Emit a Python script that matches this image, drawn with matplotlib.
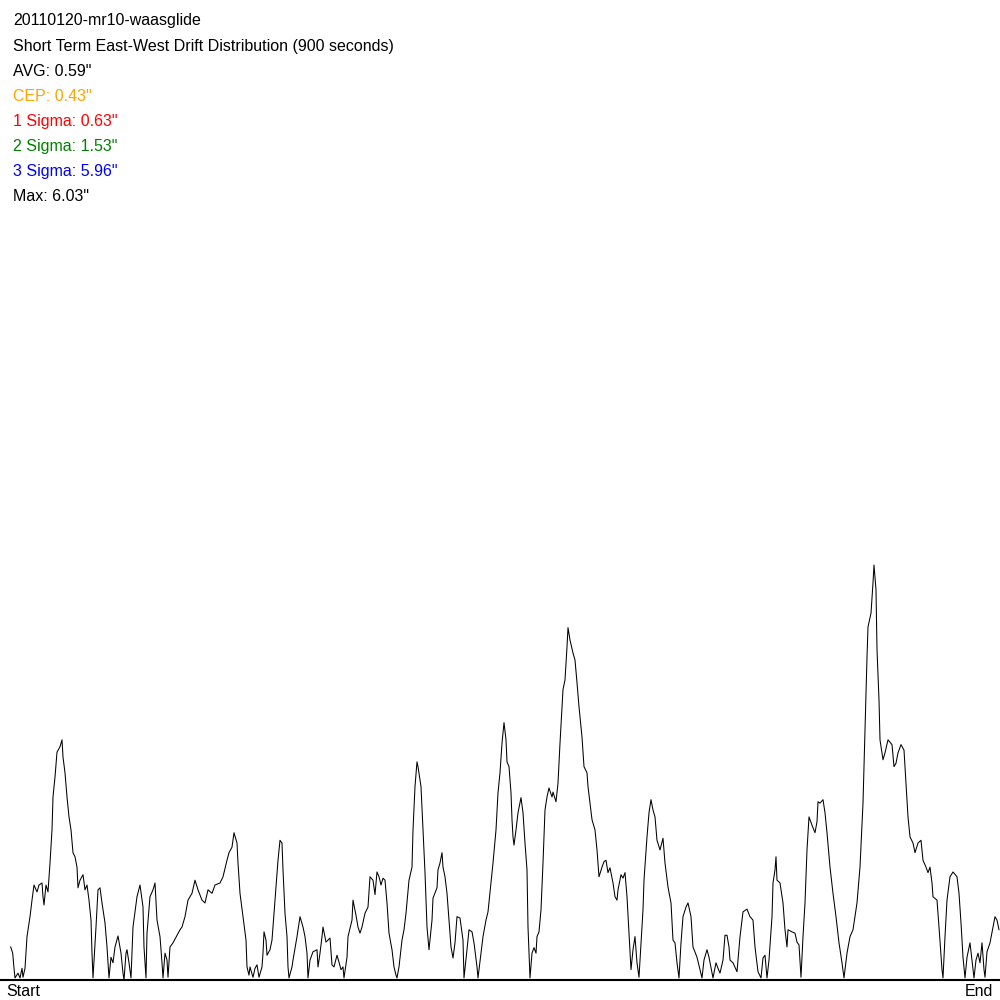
import matplotlib
matplotlib.use("Agg")
import matplotlib.pyplot as plt
import numpy as np

# chart text
title = "20110120-mr10-waasglide"
subtitle = "Short Term East-West Drift Distribution (900 seconds)"
stat_labels = ["AVG", "CEP", "1 Sigma", "2 Sigma", "3 Sigma", "Max"]
stat_values = [0.59, 0.43, 0.63, 1.53, 5.96, 6.03]
stat_colors = ["black", "#FFA500", "red", "green", "blue", "black"]

# sample position (0..1000 across the run) and drift in arc seconds
sample = [
    10.7, 12.7, 14, 15, 18, 20, 22, 23, 25, 27, 30, 32, 34, 37, 39, 42, 43, 44, 46, 48,
    50, 52, 53, 55, 57, 60, 62, 63, 65, 67, 69, 71, 73, 75, 77, 78, 80, 83, 85, 87,
    89, 91, 92, 93, 96, 98, 100, 102, 105, 107, 109, 111, 113, 115, 118, 121, 123, 124, 126, 127,
    129, 131, 133, 137, 140, 143, 144, 146, 147, 150, 153, 155, 157, 160, 162, 163, 165, 167, 168, 170,
    173, 177, 180, 182, 185, 188, 192, 195, 198, 202, 205, 208, 212, 215, 220, 223, 227, 229, 232, 234,
    237, 238, 240, 243, 246, 247, 249,
    250, 253, 255, 257, 259, 262, 263, 264, 266, 267, 270, 272, 274, 276, 278, 280, 282, 283, 285, 287,
    288, 289, 292, 293, 297, 300, 303, 305, 307, 308, 310, 313, 317, 318, 320, 322, 323, 326, 330, 332,
    334, 337, 339, 341, 343, 344, 347, 348, 352, 353, 356, 358, 360, 362, 365, 368, 370, 373, 375, 377,
    379, 381, 383, 385, 387, 389, 392, 394, 396, 397, 399, 402, 404, 406, 409, 412, 413, 415, 417, 418,
    421, 423, 425, 427, 429, 432, 433, 437, 438, 440, 442, 443, 445, 447, 449, 451, 453, 455, 457, 460,
    463, 464, 467, 469, 472, 474, 477, 478, 481, 483, 486, 488, 491, 493, 496, 498,
    500, 502, 504, 506, 507, 509, 511, 512, 513, 514, 516, 518, 521, 523, 525, 527, 528, 530, 532, 534,
    536, 537, 539, 541, 543, 545, 547, 549, 552, 553, 556, 558, 560, 563, 565, 567, 568, 570, 573, 575,
    577, 579, 582, 584, 587, 588, 592, 595, 597, 599, 602, 604, 606, 608, 610, 613, 615, 617, 618, 621,
    623, 625, 627, 629, 631, 633, 635, 637, 639, 641, 643, 644, 647, 649, 651, 653, 655, 657, 660, 663,
    665, 668, 671, 673, 675, 677, 679, 681, 683, 686, 688, 691, 693, 697, 700, 702, 704, 707, 709, 712,
    713, 716, 718, 720, 723, 725, 727, 729,
    730, 733, 737, 740, 743, 747, 750, 753, 755, 758, 761, 763, 765, 767, 769, 772, 773, 775, 776, 777,
    780, 783, 785, 787, 788, 792, 795, 797, 799, 801, 803, 805, 807, 809, 812, 815, 817, 818, 820, 823,
    825, 827, 830, 833, 836, 839, 842, 844, 847, 850, 853, 857, 860, 863, 865, 867, 868, 871, 873, 874,
    876, 877, 879, 880, 883, 885, 888, 892, 894, 896, 898, 901, 904, 906, 908, 910, 913, 915, 918, 921,
    923, 926, 928, 930, 932, 933, 937, 939, 942, 943, 945, 947, 950, 953, 957, 959, 961, 963, 965, 967,
    970, 973, 974, 976, 978, 980, 982, 984, 985, 987, 990, 993, 995, 997, 999,
]
drift = [
    0.48, 0.39, 0.17, 0.03, 0.10, 0.03, 0.17, 0.04, 0.17, 0.63, 0.92, 1.16, 1.38, 1.28, 1.38, 1.41, 1.21, 1.09, 1.38, 1.28,
    1.70, 2.18, 2.66, 2.95, 3.31, 3.39, 3.49, 3.24, 3.01, 2.66, 2.37, 2.18, 1.85, 1.79, 1.64, 1.34, 1.45, 1.53, 1.31, 1.38,
    1.16, 0.87, 0.39, 0.03, 0.77, 1.31, 1.34, 1.12, 0.83, 0.48, 0.03, 0.33, 0.25, 0.48, 0.64, 0.39, 0.10, 0.00, 0.39, 0.44,
    0.25, 0.03, 0.77, 1.21, 1.38, 1.06, 0.48, 0.03, 0.68, 1.21, 1.31, 1.41, 0.87, 0.63, 0.25, 0.03, 0.39, 0.29, 0.04, 0.48,
    0.54, 0.65, 0.73, 0.77, 0.92, 1.16, 1.26, 1.45, 1.31, 1.16, 1.12, 1.31, 1.26, 1.38, 1.41, 1.50, 1.74, 1.85, 1.93, 2.14,
    1.99, 1.70, 1.26, 0.92, 0.58, 0.19, 0.07,
    0.19, 0.04, 0.17, 0.22, 0.04, 0.19, 0.39, 0.70, 0.58, 0.36, 0.44, 0.58, 0.97, 1.35, 1.74, 2.03, 1.99, 1.60, 0.97, 0.63,
    0.19, 0.03, 0.19, 0.29, 0.63, 0.92, 0.77, 0.63, 0.39, 0.03, 0.29, 0.41, 0.44, 0.19, 0.39, 0.63, 0.77, 0.55, 0.61, 0.22,
    0.19, 0.36, 0.26, 0.15, 0.19, 0.03, 0.33, 0.63, 0.87, 1.16, 0.94, 0.77, 0.68, 0.77, 0.97, 1.06, 1.50, 1.45, 1.24, 1.57,
    1.50, 1.38, 1.48, 1.45, 1.12, 0.68, 0.44, 0.19, 0.07, 0.03, 0.19, 0.58, 0.73, 0.97, 1.45, 1.64, 2.18, 2.81, 3.17, 3.10,
    2.81, 2.18, 1.56, 0.77, 0.44, 0.87, 1.19, 1.34, 1.60, 1.70, 1.85, 1.64, 1.50, 1.26, 0.87, 0.48, 0.32, 0.54, 0.92, 0.90,
    0.58, 0.03, 0.44, 0.73, 0.70, 0.54, 0.19, 0.03, 0.39, 0.63, 0.87, 0.99, 1.41, 1.70, 2.18, 2.72,
    3.01, 3.44, 3.74, 3.49, 3.17, 3.10, 2.72, 2.33, 2.08, 1.96, 2.18, 2.43, 2.65, 2.43, 1.99, 1.60, 0.77, 0.03, 0.39, 0.47,
    0.39, 0.63, 0.70, 1.02, 1.70, 2.47, 2.66, 2.79, 2.66, 2.73, 2.59, 2.86, 3.44, 4.22, 4.36, 4.84, 5.12, 4.94, 4.75, 4.65,
    4.32, 3.97, 3.53, 3.10, 3.01, 2.81, 2.33, 2.18, 1.89, 1.50, 1.64, 1.72, 1.74, 1.56, 1.63, 1.41, 1.21, 1.16, 1.31, 1.53,
    1.48, 1.56, 1.21, 0.68, 0.15, 0.44, 0.63, 0.25, 0.04, 0.54, 1.02, 1.45, 2.08, 2.43, 2.62, 2.47, 2.37, 2.03, 1.89, 2.06,
    1.70, 1.35, 1.12, 0.58, 0.54, 0.25, 0.03, 0.54, 0.92, 1.06, 1.12, 0.92, 0.48, 0.33, 0.15, 0.03, 0.29, 0.44, 0.33, 0.10,
    0.03, 0.25, 0.17, 0.10, 0.29, 0.65, 0.65, 0.48,
    0.29, 0.25, 0.12, 0.63, 0.99, 1.03, 0.92, 0.87, 0.48, 0.12, 0.03, 0.32, 0.36, 0.03, 0.29, 0.92, 1.41, 1.60, 1.79, 1.45,
    1.41, 1.12, 0.73, 0.48, 0.73, 0.70, 0.68, 0.55, 0.51, 0.04, 0.63, 1.12, 1.89, 2.37, 2.25, 2.14, 2.30, 2.59, 2.57, 2.62,
    2.43, 2.14, 1.64, 1.26, 0.92, 0.54, 0.25, 0.03, 0.39, 0.63, 0.73, 1.12, 1.64, 2.57, 3.63, 4.69, 5.13, 5.33, 5.77, 6.03,
    5.67, 4.80, 4.07, 3.49, 3.20, 3.30, 3.49, 3.42, 3.10, 3.15, 3.30, 3.42, 3.34, 2.86, 2.37, 2.08, 1.99, 1.85, 1.99, 2.03,
    1.74, 1.64, 1.56, 1.64, 1.41, 1.21, 1.16, 0.77, 0.15, 0.03, 0.63, 1.16, 1.50, 1.57, 1.50, 1.26, 0.83, 0.33, 0.03, 0.33,
    0.54, 0.15, 0.03, 0.29, 0.39, 0.25, 0.54, 0.15, 0.04, 0.41, 0.54, 0.77, 0.92, 0.87, 0.73,
]

# vertical scale of the original: the max drift reaches 415 px above the baseline
px_per_arcsec = 415 / 6.03

fig = plt.figure(figsize=(10, 10), dpi=100)
ax = fig.add_axes([0, 0, 1, 1])
ax.set_xlim(0, 1000)
ax.set_ylim(-20 / px_per_arcsec, 980 / px_per_arcsec)
ax.axis("off")

ax.plot(sample, drift, color="black", linewidth=0.75)
ax.axhline(0, color="black", linewidth=1.5)

font = "Liberation Sans"
fs = 11.5
fig.text(0.013, 0.9795, title, fontsize=fs, family=font, va="center")
fig.text(0.013, 0.9535, subtitle, fontsize=fs, family=font, va="center")
for i, (lab, val, col) in enumerate(zip(stat_labels, stat_values, stat_colors)):
    fig.text(0.013, 0.9285 - 0.025 * i, '{}: {:.2f}"'.format(lab, val),
             fontsize=fs, family=font, color=col, va="center")

fig.text(0.006, 0.009, "Start", fontsize=fs, family=font, va="center")
fig.text(0.993, 0.009, "End", fontsize=fs, family=font, va="center", ha="right")

fig.savefig("out.png", dpi=100, facecolor="white")
